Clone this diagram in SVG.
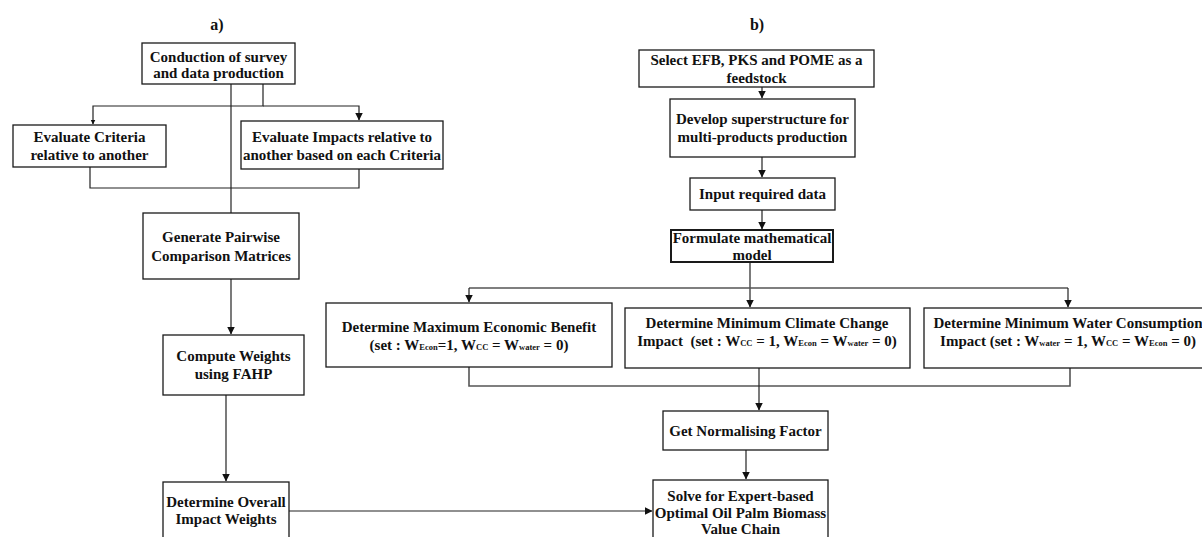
<svg xmlns="http://www.w3.org/2000/svg" width="1202" height="537" viewBox="0 0 1202 537">
  <style>
    .box { fill: #ffffff; stroke: #1a1a1a; stroke-width: 1.3; }
    .thick { stroke-width: 2; }
    .lbl { font-family: "Liberation Serif", "Times New Roman", serif; font-weight: bold; font-size: 15px; fill: #111; text-anchor: middle; }
    .head { font-size: 16px; }
    .sub { font-size: 8.5px; }
    .wire { fill: none; stroke: #222; stroke-width: 1.2; }
    .bus { fill: none; stroke: #555; stroke-width: 1.6; }
  </style>
  <defs>
    <marker id="arr" markerWidth="8" markerHeight="10" refX="7.5" refY="4" orient="auto" markerUnits="userSpaceOnUse">
      <path d="M0,0 L8,4 L0,8 Z" fill="#111"/>
    </marker>
    <marker id="arrSmall" markerWidth="5" markerHeight="6" refX="4.5" refY="2.5" orient="auto" markerUnits="userSpaceOnUse">
      <path d="M0,0 L5,2.5 L0,5 Z" fill="#111"/>
    </marker>
  </defs>

  <!-- panel captions -->
  <text class="lbl head" x="217" y="30">a)</text>
  <text class="lbl head" x="757" y="30">b)</text>

  <!-- connectors -->
  <g id="connectors">
    <!-- panel a -->
    <path class="wire" d="M263,84 V106 H93 V124" marker-end="url(#arrSmall)"/>
    <path class="wire" d="M263,106 H359 V120" marker-end="url(#arr)"/>
    <path class="wire" d="M90,167 V188 H359 V169"/>
    <path class="wire" d="M231,83 V213"/>
    <path class="wire" d="M231,279 V334" marker-end="url(#arr)"/>
    <path class="wire" d="M226,395 V481" marker-end="url(#arr)"/>
    <path class="wire" d="M289,511 H652" marker-end="url(#arr)"/>
    <!-- panel b -->
    <path class="wire" d="M762,87 V98" marker-end="url(#arr)"/>
    <path class="wire" d="M762,157 V177" marker-end="url(#arr)"/>
    <path class="wire" d="M762,210 V229" marker-end="url(#arr)"/>
    <path class="wire" d="M750,262 V307" marker-end="url(#arr)"/>
    <path class="bus" d="M469,288 H1068"/>
    <path class="wire" d="M469,288 V302" marker-end="url(#arr)"/>
    <path class="wire" d="M1068,288 V307" marker-end="url(#arr)"/>
    <path class="bus" d="M469,367 V386 H1070 V368"/>
    <path class="wire" d="M759,368 V410" marker-end="url(#arr)"/>
    <path class="wire" d="M746,450 V479" marker-end="url(#arr)"/>
  </g>

  <!-- panel a nodes -->
  <g id="survey">
    <rect class="box" x="142" y="43" width="153" height="41"/>
    <text class="lbl" x="218.5" y="62">Conduction of survey</text>
    <text class="lbl" x="218.5" y="78">and data production</text>
  </g>
  <g id="eval-criteria">
    <rect class="box" x="13" y="125" width="153" height="42"/>
    <text class="lbl" x="89.5" y="142">Evaluate Criteria</text>
    <text class="lbl" x="89.5" y="160">relative to another</text>
  </g>
  <g id="eval-impacts">
    <rect class="box" x="241" y="121" width="202" height="48"/>
    <text class="lbl" x="342" y="142">Evaluate Impacts relative to</text>
    <text class="lbl" x="342" y="160">another based on each Criteria</text>
  </g>
  <g id="pairwise">
    <rect class="box" x="143" y="213" width="156" height="66"/>
    <text class="lbl" x="221" y="242">Generate Pairwise</text>
    <text class="lbl" x="221" y="261">Comparison Matrices</text>
  </g>
  <g id="fahp">
    <rect class="box" x="163" y="335" width="141" height="60"/>
    <text class="lbl" x="233.5" y="361">Compute Weights</text>
    <text class="lbl" x="233.5" y="379">using FAHP</text>
  </g>
  <g id="overall">
    <rect class="box" x="163" y="482" width="126" height="70"/>
    <text class="lbl" x="226" y="507">Determine Overall</text>
    <text class="lbl" x="226" y="524">Impact Weights</text>
  </g>

  <!-- panel b nodes -->
  <g id="feedstock">
    <rect class="box" x="639" y="50" width="235" height="37"/>
    <text class="lbl" x="756.5" y="65">Select EFB, PKS and POME as a</text>
    <text class="lbl" x="756.5" y="83">feedstock</text>
  </g>
  <g id="superstructure">
    <rect class="box" x="670" y="99" width="185" height="58"/>
    <text class="lbl" x="762.5" y="124">Develop superstructure for</text>
    <text class="lbl" x="762.5" y="142">multi-products production</text>
  </g>
  <g id="input">
    <rect class="box" x="690" y="178" width="145" height="32"/>
    <text class="lbl" x="762.5" y="199">Input required data</text>
  </g>
  <g id="model">
    <rect class="box thick" x="671" y="230" width="162" height="32"/>
    <text class="lbl" x="752" y="243">Formulate mathematical</text>
    <text class="lbl" x="752" y="260">model</text>
  </g>
  <g id="max-econ">
    <rect class="box" x="326" y="303" width="286" height="64"/>
    <text class="lbl" x="469" y="332">Determine Maximum Economic Benefit</text>
    <text class="lbl" x="469" y="350">(set : W<tspan class="sub">Econ</tspan>=1, W<tspan class="sub">CC</tspan> = W<tspan class="sub">water</tspan> = 0)</text>
  </g>
  <g id="min-climate">
    <rect class="box" x="625" y="308" width="285" height="60"/>
    <text class="lbl" x="767" y="328">Determine Minimum Climate Change</text>
    <text class="lbl" x="767" y="346" xml:space="preserve">Impact  (set : W<tspan class="sub">CC</tspan> = 1, W<tspan class="sub">Econ</tspan> = W<tspan class="sub">water</tspan> = 0)</text>
  </g>
  <g id="min-water">
    <rect class="box" x="924" y="308" width="290" height="60"/>
    <text class="lbl" x="1068" y="328">Determine Minimum Water Consumption</text>
    <text class="lbl" x="1068" y="346">Impact (set : W<tspan class="sub">water</tspan> = 1, W<tspan class="sub">CC</tspan> = W<tspan class="sub">Econ</tspan> = 0)</text>
  </g>
  <g id="normalise">
    <rect class="box" x="663" y="411" width="165" height="39"/>
    <text class="lbl" x="745.5" y="436">Get Normalising Factor</text>
  </g>
  <g id="solve">
    <rect class="box" x="653" y="480" width="175" height="70"/>
    <text class="lbl" x="740.5" y="501">Solve for Expert-based</text>
    <text class="lbl" x="740.5" y="518">Optimal Oil Palm Biomass</text>
    <text class="lbl" x="740.5" y="534">Value Chain</text>
  </g>
</svg>
